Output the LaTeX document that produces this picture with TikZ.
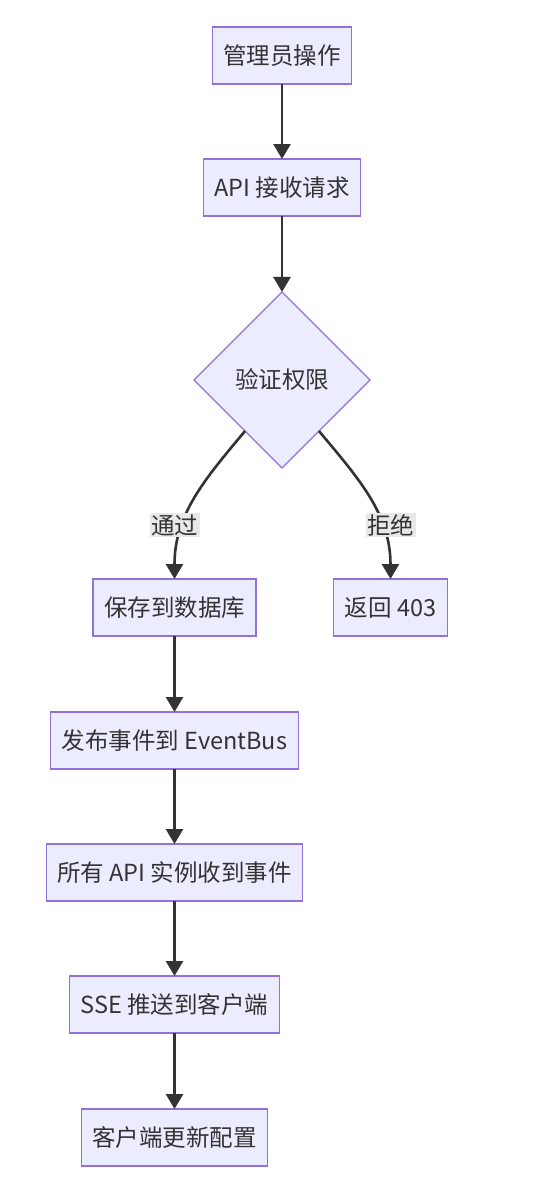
\documentclass[tikz,border=0pt]{standalone}
\usepackage{fontspec}
\usepackage{xcolor}
\usepackage{tikz}
\usetikzlibrary{shapes.geometric, arrows.meta, positioning, calc}
\newfontfamily\cjk{Noto Sans CJK SC}
\definecolor{nodefill}{HTML}{ECECFF}
\definecolor{nodeline}{HTML}{9370DB}
\definecolor{edgeline}{HTML}{333333}
\definecolor{lblfill}{HTML}{E8E8E8}
\tikzset{
  proc/.style    = {rectangle, draw=nodeline, fill=nodefill, line width=1.2pt,
                    minimum height=57pt, inner xsep=11pt, outer sep=0pt,
                    align=center, text=edgeline,
                    font=\cjk\fontsize{23.5pt}{27pt}\selectfont},
  gate/.style    = {diamond, aspect=1, draw=nodeline, fill=nodefill,
                    line width=1.2pt, minimum width=176pt, minimum height=176pt,
                    inner sep=0pt, outer sep=0pt, align=center, text=edgeline,
                    font=\cjk\fontsize{23.5pt}{27pt}\selectfont},
  flow/.style    = {-{Triangle[length=15pt,width=17pt]}, line width=2.6pt,
                    draw=edgeline},
  edgelbl/.style = {rectangle, fill=lblfill, inner sep=1.5pt, text=edgeline,
                    font=\cjk\fontsize{23.5pt}{27pt}\selectfont},
}
\begin{document}
\begin{tikzpicture}
  \useasboundingbox (0,0) rectangle (549pt,-1184pt);
  \node[proc] (admin) at (282pt,-55.5pt) {管理员操作};
  \node[proc, below=75pt of admin] (recv) {API 接收请求};
  \node[gate, below=76pt of recv] (auth) {验证权限};
  \node[proc, below=111pt of auth, xshift=-107.5pt] (save) {保存到数据库};
  \node[proc, below=111pt of auth, xshift=108.5pt] (deny) {返回 403};
  \node[proc, below=76pt of save] (publish) {发布事件到 EventBus};
  \node[proc, below=75pt of publish] (recvall) {所有 API 实例收到事件};
  \node[proc, below=75pt of recvall] (push) {SSE 推送到客户端};
  \node[proc, below=76pt of push] (update) {客户端更新配置};

  \coordinate (passout) at ($(auth.west)!0.58!(auth.south)$);
  \coordinate (denyout) at ($(auth.east)!0.58!(auth.south)$);
  \coordinate[above=54pt of save] (passpt);
  \coordinate[above=54pt of deny] (denypt);

  \draw[flow] (admin) -- (recv);
  \draw[flow] (recv) -- (auth);
  \draw[flow] (passout) to[out=-130, in=90] (save.north);
  \draw[flow] (denyout) to[out=-50, in=90] (deny.north);
  \draw[flow] (save) -- (publish);
  \draw[flow] (publish) -- (recvall);
  \draw[flow] (recvall) -- (push);
  \draw[flow] (push) -- (update);

  \node[edgelbl] (passlbl) at (passpt) {通过};
  \node[edgelbl] (denylbl) at (denypt) {拒绝};
\end{tikzpicture}
\end{document}
